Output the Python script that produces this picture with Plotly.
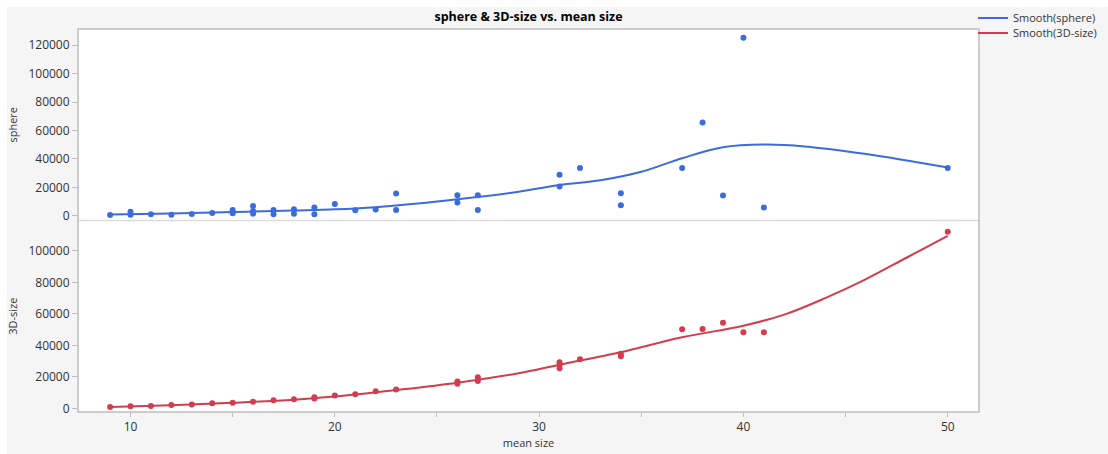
import plotly.graph_objects as go

# ---- data ----
sphere_x = [9, 10, 10, 11, 12, 13, 14, 15, 15, 16, 16, 16, 17, 17, 18, 18, 19, 19,
            20, 21, 22, 23, 23, 26, 26, 27, 27, 31, 31, 32, 34, 34, 37, 38, 39, 40, 41, 50]
sphere_y = [700, 3000, 900, 1200, 900, 1400, 2100, 4200, 1900, 7000, 3500, 1600, 4200, 1200,
            4700, 1600, 5900, 1200, 8400, 4000, 4500, 15700, 4200, 14600, 9400, 14600, 4200,
            28900, 20700, 33700, 16000, 7500, 33700, 65600, 14300, 125200, 5900, 33700]

size3d_x = [9, 10, 11, 12, 13, 14, 15, 16, 17, 18, 19, 19, 20, 21, 22, 23, 26, 26, 27, 27,
            31, 31, 31, 32, 34, 34, 37, 38, 39, 40, 41, 50]
size3d_y = [800, 1300, 1500, 2100, 2500, 3200, 3600, 4200, 5100, 5700, 7000, 6300, 8200, 9000,
            10800, 12000, 17100, 15600, 19800, 17300, 29300, 27600, 25500, 31200, 34600, 33100,
            50200, 50400, 54400, 48300, 48300, 112200]

smooth_sphere_x = [9, 12, 15, 18, 21, 23, 26, 29, 31, 33, 35, 37, 39, 41, 43, 46, 50]
smooth_sphere_y = [1000, 1800, 2700, 3800, 5300, 7300, 11700, 17000, 21700, 25000, 31000,
                   40500, 48200, 50100, 48800, 43500, 34000]

smooth_3d_x = [9, 12, 15, 18, 21, 23, 26, 29, 31, 34, 37, 40, 42, 44, 46, 48, 50]
smooth_3d_y = [800, 2000, 3500, 5500, 8800, 11600, 16300, 22300, 27700, 35600, 45100, 52500,
               59500, 70000, 82100, 95800, 109500]

x_ticks = [10, 20, 30, 40, 50]
sphere_ticks = [0, 20000, 40000, 60000, 80000, 100000, 120000]
size3d_ticks = [0, 20000, 40000, 60000, 80000, 100000]

BLUE = "#3b6bdc"
RED = "#d33c4c"
FONT = "Open Sans"
TICKCOL = "#333333"
AXCOL = "#bdbdbd"

# plot area geometry in pixels (for converting page positions to paper coords)
W, H = 1108, 454
L, R, T, B = 78, 129, 29, 42
PW, PH = W - L - R, H - T - B


def px_x(px):
    return (px - L) / PW


def px_y(py):
    return (H - B - py) / PH


fig = go.Figure()

fig.add_trace(go.Scatter(x=smooth_sphere_x, y=smooth_sphere_y, mode="lines",
                         line=dict(color=BLUE, width=2, shape="spline", smoothing=1.0),
                         name="Smooth(sphere)", xaxis="x", yaxis="y", legend="legend"))
fig.add_trace(go.Scatter(x=smooth_3d_x, y=smooth_3d_y, mode="lines",
                         line=dict(color=RED, width=2, shape="spline", smoothing=1.0),
                         name="Smooth(3D-size)", xaxis="x", yaxis="y2", legend="legend2"))
fig.add_trace(go.Scatter(x=sphere_x, y=sphere_y, mode="markers",
                         marker=dict(color=BLUE, size=6), showlegend=False,
                         xaxis="x", yaxis="y"))
fig.add_trace(go.Scatter(x=size3d_x, y=size3d_y, mode="markers",
                         marker=dict(color=RED, size=6), showlegend=False,
                         xaxis="x", yaxis="y2"))

tickfont = dict(family=FONT, size=12, color=TICKCOL)
legfont = dict(family=FONT, size=11, color=TICKCOL)
titlefont = dict(family=FONT, size=11, color=TICKCOL)

fig.update_layout(
    width=W, height=H,
    paper_bgcolor="white", plot_bgcolor="white",
    margin=dict(l=L, r=R, t=T, b=B, autoexpand=False),
    font=dict(family=FONT, color=TICKCOL),
    title=dict(text="<b>sphere & 3D-size vs. mean size</b>", x=0.5, xref="paper",
               xanchor="center", y=1, yref="container", yanchor="top", pad=dict(t=12),
               font=dict(family=FONT, size=12.5, color="black")),
    showlegend=True,
    legend=dict(x=px_x(973), xanchor="left", y=px_y(18), yanchor="middle",
                bgcolor="rgba(0,0,0,0)", font=legfont, itemwidth=30),
    legend2=dict(x=px_x(973), xanchor="left", y=px_y(33), yanchor="middle",
                 bgcolor="rgba(0,0,0,0)", font=legfont, itemwidth=30),
    xaxis=dict(range=[7.43, 51.53], tickvals=x_ticks, ticks="outside", ticklen=4,
               tickcolor=AXCOL, tickfont=tickfont, showgrid=False, zeroline=False,
               showline=False, anchor="y2", ticklabelstandoff=0,
               minor=dict(dtick=5, tick0=0, ticks="outside", ticklen=4, tickcolor=AXCOL),
               title=dict(text="mean size", font=titlefont, standoff=0)),
    yaxis=dict(domain=[0.5, 1], range=[-3200, 131300], tickvals=sphere_ticks,
               tickformat="d", ticks="outside", ticklen=5, tickcolor=AXCOL,
               tickfont=tickfont, showgrid=False, zeroline=False, showline=False,
               title=dict(text="sphere", font=titlefont, standoff=8)),
    yaxis2=dict(domain=[0, 0.5], range=[-2340, 119300], tickvals=size3d_ticks,
                tickformat="d", ticks="outside", ticklen=5, tickcolor=AXCOL,
                tickfont=tickfont, showgrid=False, zeroline=False, showline=False,
                title=dict(text="3D-size", font=titlefont, standoff=8)),
    shapes=[
        # light grey report panel behind the chart
        dict(type="rect", xref="paper", yref="paper", x0=px_x(7), x1=px_x(W + 2),
             y0=px_y(H + 2), y1=px_y(7), line=dict(width=0), fillcolor="#f5f5f5",
             layer="below"),
        dict(type="rect", xref="paper", yref="paper", x0=0, x1=1, y0=0, y1=1,
             line=dict(width=0), fillcolor="white", layer="below"),
        dict(type="rect", xref="paper", yref="paper", x0=0, x1=1, y0=0, y1=1,
             line=dict(color=AXCOL, width=1.5), fillcolor="rgba(0,0,0,0)", layer="above"),
        dict(type="line", xref="paper", yref="paper", x0=0, x1=1, y0=0.5, y1=0.5,
             line=dict(color="#dcdcdc", width=1.5), layer="below"),
    ],
)

fig.write_html("out.html", config={"displayModeBar": False},
               post_script="document.body.style.margin='0';")

# remove the default page margin so the figure sits at the window's top-left corner
with open("out.html", "r", encoding="utf-8") as f:
    html = f.read()
html = html.replace("<body>", '<body style="margin:0;overflow:hidden;">', 1)
with open("out.html", "w", encoding="utf-8") as f:
    f.write(html)
